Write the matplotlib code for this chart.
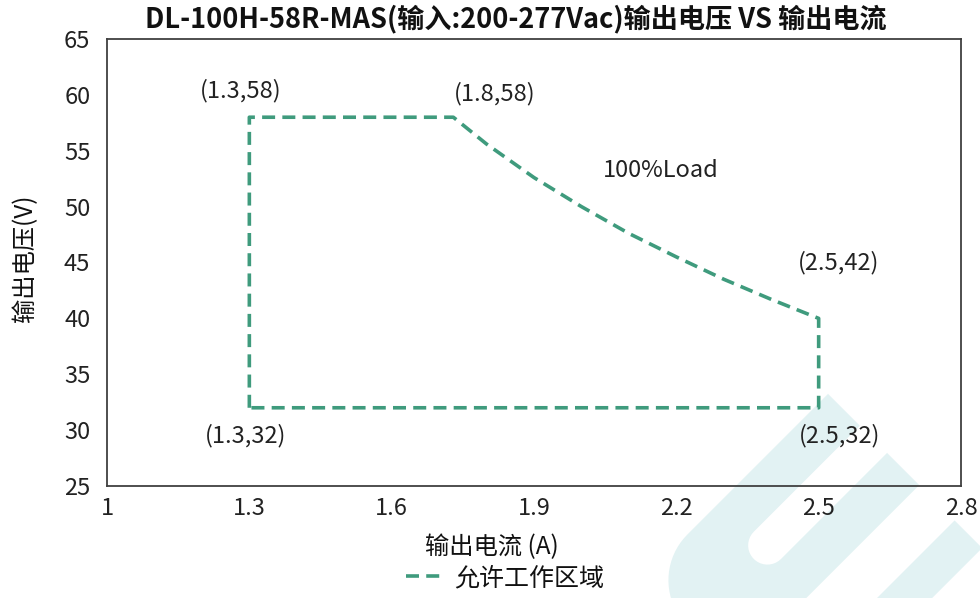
import matplotlib
matplotlib.use("Agg")
import matplotlib.pyplot as plt
import numpy as np
from matplotlib.patches import Polygon

plt.rcParams['font.family'] = ['Noto Sans CJK SC', 'DejaVu Sans']

# outline of the allowed working area
current = [1.3, 1.3, 1.73, 1.8, 1.9, 2.0, 2.1, 2.2, 2.3, 2.4, 2.5, 2.5, 1.3]
voltage = [32, 58, 58, 55.6, 52.6, 50.0, 47.6, 45.5, 43.5, 41.7, 40, 32, 32]

labels = ['(1.3,58)', '(1.8,58)', '100%Load', '(2.5,42)', '(1.3,32)', '(2.5,32)']
label_pos = [(1.282, 60.4), (1.818, 60.15), (2.168, 53.2), (2.541, 44.95),
             (1.293, 29.55), (2.545, 29.55)]

xticks = [1, 1.3, 1.6, 1.9, 2.2, 2.5, 2.8]
yticks = [25, 30, 35, 40, 45, 50, 55, 60, 65]

title = 'DL-100H-58R-MAS(输入:200-277Vac)输出电压 VS 输出电流'
xlabel = '输出电流 (A)'
ylabel = '输出电压(V)'
series_name = '允许工作区域'

green = '#3f9b7d'
W, H = 980, 598
S2 = np.sqrt(2)


def to_fig(u, v):
    # rotated pixel frame (u along the 45deg bars, v across) -> figure fraction
    x = (u + v) / S2
    y = (v - u) / S2
    return np.column_stack([x / W, 1 - y / H])


def watermark_shapes():
    top = 307
    # U shaped piece: two arms joined at the bottom, open gap between them
    v0, v1 = 864, 993
    g0, g1 = 909, 947.5
    oc, orad = (v0 + v1) / 2, (v1 - v0) / 2
    gc, grad = (g0 + g1) / 2, (g1 - g0) / 2
    t = np.linspace(np.pi, 0, 40)
    outer_v = oc + orad * np.cos(t)
    outer_u = 108 - orad * np.sin(t)
    s = np.linspace(0, np.pi, 20)
    gap_v = gc + grad * np.cos(s)
    gap_u = 157 - grad * np.sin(s)
    us = np.concatenate([[top], outer_u, [top, top], gap_u, [top]])
    vs = np.concatenate([[v0], outer_v, [v1, g1], gap_v, [g0]])
    u_shape = to_fig(us, vs)
    bar = to_fig(np.array([top, 60, 60, top]), np.array([1043, 1043, 1082, 1082]))
    return [u_shape, bar]


fig = plt.figure(figsize=(W / 100, H / 100), dpi=100)

for pts in watermark_shapes():
    fig.patches.append(Polygon(pts, closed=True, transform=fig.transFigure,
                               facecolor='#e2f2f3', edgecolor='none', zorder=-1,
                               joinstyle='round'))

ax = fig.add_axes([107 / W, 1 - 486 / H, (961 - 107) / W, (486 - 39) / H])
ax.set_facecolor('none')

ax.plot(current, voltage, color=green, lw=2.6, linestyle=(0, (3.6, 2.0)),
        label=series_name)

for txt, (x, y) in zip(labels, label_pos):
    ax.text(x, y, txt, ha='center', va='center', fontsize=17, color='#222222')

ax.set_xlim(1, 2.8)
ax.set_ylim(25, 65)
ax.set_xticks(xticks)
ax.set_xticklabels([f'{t:g}' for t in xticks])
ax.set_yticks(yticks)
ax.tick_params(length=0, labelsize=17, labelcolor='#222222')
ax.tick_params(axis='x', pad=8)
ax.tick_params(axis='y', pad=12)
for sp in ax.spines.values():
    sp.set_color('#404040')
    sp.set_linewidth(1.3)

fig.text(516 / W, 1 - 19 / H, title, ha='center', va='center',
         fontsize=19.5, fontweight='bold', color='#111111')
fig.text(492 / W, 1 - 547 / H, xlabel, ha='center', va='center',
         fontsize=17.5, color='#111111')
fig.text(25 / W, 1 - 258 / H, ylabel, ha='center', va='center',
         fontsize=17.5, rotation=90, color='#111111')

fig.legend(loc='center', bbox_to_anchor=(505 / W, 1 - 578 / H), frameon=False,
           fontsize=18, handlelength=1.5, handletextpad=0.4,
           borderpad=0, labelcolor='#111111')

fig.savefig('out.png', dpi=100)
